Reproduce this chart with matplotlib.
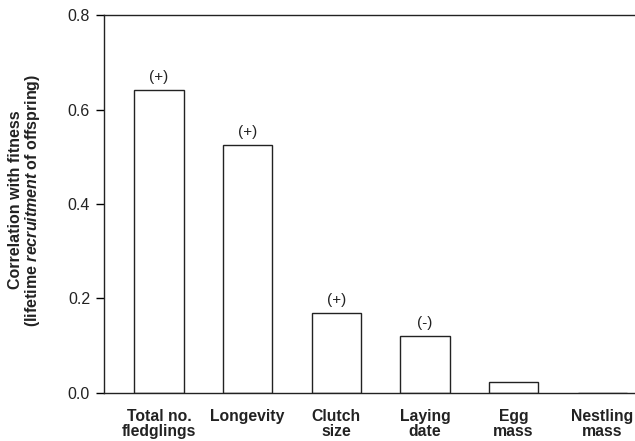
import matplotlib
matplotlib.use("Agg")
import matplotlib.pyplot as plt

categories = ["Total no.\nfledglings", "Longevity", "Clutch\nsize", "Laying\ndate", "Egg\nmass", "Nestling\nmass"]
values = [0.642, 0.526, 0.170, 0.121, 0.023, 0.0]
signs = ["(+)", "(+)", "(+)", "(-)", "", ""]
yticks = [0.0, 0.2, 0.4, 0.6, 0.8]

plt.rcParams['font.family'] = ['Liberation Sans', 'DejaVu Sans']
plt.rcParams['mathtext.fontset'] = 'custom'
plt.rcParams['mathtext.it'] = 'Liberation Sans:italic:bold'
plt.rcParams['mathtext.rm'] = 'Liberation Sans:bold'

W, H = 635, 441
fig = plt.figure(figsize=(W/100, H/100), dpi=100)
left, right, top, bottom = 104, 635, 15.4, 392.7
ax = fig.add_axes([left/W, (H-bottom)/H, (right-left)/W, (bottom-top)/H])

x = list(range(len(categories)))
ax.bar(x, values, width=0.557, facecolor='white', edgecolor='#222222', linewidth=1.0)
for xi, v, s in zip(x, values, signs):
    if s:
        ax.annotate(s, (xi, v), xytext=(0, 4), textcoords='offset points',
                    ha='center', va='bottom', fontsize=11, color='#222222')

ax.set_xlim(-0.62, 5.37)
ax.set_ylim(0, 0.8)
ax.set_yticks(yticks)
ax.set_yticklabels([f"{t:.1f}" for t in yticks], fontsize=11.5, color='#222222')
ax.set_xticks(x)
ax.set_xticklabels(categories, fontsize=11.3, fontweight='bold', color='#222222', linespacing=0.95)
ax.tick_params(axis='x', length=0, pad=12)
ax.tick_params(axis='y', direction='out', length=6, width=1.0, pad=4)
ax.spines['right'].set_visible(False)
for sp in ['left', 'top', 'bottom']:
    ax.spines[sp].set_linewidth(1.0)
    ax.spines[sp].set_color('#222222')

fig.text(25/W, 1 - 200/H,
         "Correlation with fitness\n(lifetime $\\mathit{recruitment}\\;$of offspring)",
         rotation=90, ha='center', va='center', fontsize=11.5, fontweight='bold',
         color='#222222', linespacing=0.95, multialignment='center')

fig.savefig("out.png", dpi=100)
